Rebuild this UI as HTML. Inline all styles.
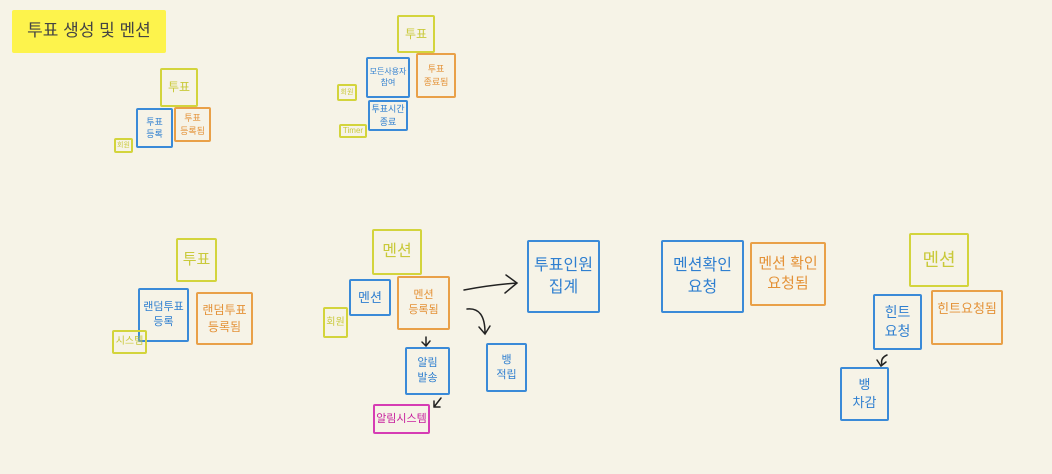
<!DOCTYPE html>
<html><head><meta charset="utf-8"><style>
body{margin:0;width:1052px;height:474px;background:#f6f3e7;position:relative;overflow:hidden;font-family:"Liberation Sans","Noto Sans CJK KR",sans-serif}
.b{position:absolute;box-sizing:border-box;border:2px solid;border-radius:2px;display:flex;align-items:center;justify-content:center;text-align:center;line-height:1.35;white-space:nowrap}
.y{border-color:#d3d43c;color:#c9c93a}
.u{border-color:#3a8ad8;color:#2f7fd0}
.o{border-color:#e9a048;color:#e49238}
.p{border-color:#d63cb4;color:#c8209e}
</style></head><body>
<div class="b" style="left:12px;top:10px;width:154px;height:43px;background:#fdf34c;border:none;color:#444;font-size:17px">투표 생성 및 멘션</div>

<div class="b y" style="left:160px;top:68px;width:38px;height:39px;font-size:12px">투표</div>
<div class="b u" style="left:136px;top:108px;width:37px;height:40px;font-size:9px">투표<br>등록</div>
<div class="b o" style="left:174px;top:107px;width:37px;height:35px;font-size:9px">투표<br>등록됨</div>
<div class="b y" style="left:114px;top:138px;width:19px;height:15px;font-size:7px">회원</div>

<div class="b y" style="left:397px;top:15px;width:38px;height:38px;font-size:12px">투표</div>
<div class="b u" style="left:366px;top:57px;width:44px;height:41px;font-size:8px">모든사용자<br>참여</div>
<div class="b o" style="left:416px;top:53px;width:40px;height:45px;font-size:9px">투표<br>종료됨</div>
<div class="b y" style="left:337px;top:84px;width:20px;height:17px;font-size:7px">회원</div>
<div class="b u" style="left:368px;top:100px;width:40px;height:31px;font-size:9px">투표시간<br>종료</div>
<div class="b y" style="left:339px;top:124px;width:28px;height:14px;font-size:8px">Timer</div>

<div class="b y" style="left:176px;top:238px;width:41px;height:44px;font-size:15px">투표</div>
<div class="b u" style="left:138px;top:288px;width:51px;height:54px;font-size:11px">랜덤투표<br>등록</div>
<div class="b o" style="left:196px;top:292px;width:57px;height:53px;font-size:12px">랜덤투표<br>등록됨</div>
<div class="b y" style="left:112px;top:330px;width:35px;height:24px;font-size:10px">시스템</div>

<div class="b y" style="left:372px;top:229px;width:50px;height:46px;font-size:16px">멘션</div>
<div class="b u" style="left:349px;top:279px;width:42px;height:37px;font-size:13px">멘션</div>
<div class="b o" style="left:397px;top:276px;width:53px;height:54px;font-size:11px">멘션<br>등록됨</div>
<div class="b y" style="left:323px;top:307px;width:25px;height:31px;font-size:10px">회원</div>
<div class="b u" style="left:405px;top:347px;width:45px;height:48px;font-size:11px">알림<br>발송</div>
<div class="b u" style="left:486px;top:343px;width:41px;height:49px;font-size:11px">뱅<br>적립</div>
<div class="b p" style="left:373px;top:404px;width:57px;height:30px;font-size:11px">알림시스템</div>
<div class="b u" style="left:527px;top:240px;width:73px;height:73px;font-size:16px">투표인원<br>집계</div>

<div class="b u" style="left:661px;top:240px;width:83px;height:73px;font-size:16px">멘션확인<br>요청</div>
<div class="b o" style="left:750px;top:242px;width:76px;height:64px;font-size:15px">멘션 확인<br>요청됨</div>

<div class="b y" style="left:909px;top:233px;width:60px;height:54px;font-size:18px">멘션</div>
<div class="b u" style="left:873px;top:294px;width:49px;height:56px;font-size:14px">힌트<br>요청</div>
<div class="b o" style="left:931px;top:290px;width:72px;height:55px;font-size:13px;align-items:flex-start;padding-top:8px">힌트요청됨</div>
<div class="b u" style="left:840px;top:367px;width:49px;height:54px;font-size:13px">뱅<br>차감</div>

<svg width="1052" height="474" style="position:absolute;left:0;top:0" fill="none" stroke="#222" stroke-width="1.5" stroke-linecap="round">
<path d="M464 290 Q490 285 517 283 M506 275 L517 283 L505 293"/>
<path d="M467 309 Q485 307 485 333 M479 327 L485 334 L490 326"/>
<path d="M426 337 L426 346 M422 342 L426 346 L430 341"/>
<path d="M441 398 L434 407 M434 401 L434 407 L440 407"/>
<path d="M887 355 Q880 358 882 365 M877 360 L881 366 L886 362"/>
</svg>
</body></html>
